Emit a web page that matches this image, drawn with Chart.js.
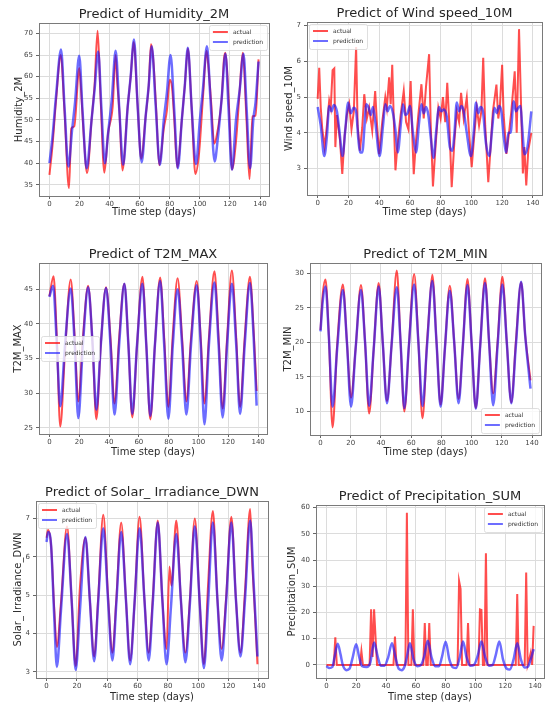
<!DOCTYPE html>
<html lang="en">
<head>
<meta charset="UTF-8">
<title>Predict of weather variables</title>
<script src="https://cdn.jsdelivr.net/npm/chart.js"></script>
<style>
  body { margin: 0; background: #fff; }
  #page { position: relative; width: 550px; height: 708px; overflow: hidden; }
</style>
</head>
<body>
<div id="page"></div>
<script>
// ---- data as [day, value] pairs ----
const xTicks = [0, 20, 40, 60, 80, 100, 120, 140];

const humidityTicks = [35, 40, 45, 50, 55, 60, 65, 70];
const humidityActual = [[0,37.3],[2,44],[4.5,55],[7.5,65],[10,52],[13,34.2],[14.5,48],[16.5,48.5],[19.8,62],[21,57],[22.5,48],[25,37.7],[28,50],[30,58],[32,70.6],[34,55],[36.5,37.8],[39,47],[42,53],[44,65],[45,59],[46.5,52],[48.5,38.3],[52,53],[54,60],[56,68],[58.5,54],[61,41],[64,51],[66,58],[67.5,67.5],[69,64],[71,52],[73,39.5],[76,48],[78,52],[80,59.3],[81.5,57.5],[83,50],[85,39],[88,50],[90,58],[92,66.5],[94.5,53],[97,37.5],[99.5,42.5],[102,55],[104.5,66],[105.5,63],[107.5,54],[109.5,44.5],[111,46],[114.5,55],[116,64],[117,65.5],[118,62],[119.5,52],[121.3,38.5],[124,45],[126.5,57],[128.5,65.5],[131,50],[133,36.3],[135,50.8],[137,51],[139,64]];
const humidityPred = [[0,40],[2,46],[4.5,56],[7.7,66.3],[10,53],[12.6,39.2],[15,47.5],[17,54],[19.8,64.8],[22,52],[24.7,38.8],[28,50],[30,57],[32.4,65.8],[34.5,53],[36.8,40],[39,47],[41.5,55],[44,66],[46.5,52],[49,39.6],[52,53],[54,60],[56.2,68.6],[58.5,54],[61.3,40.2],[64,51],[66,58],[68,67],[70.5,54],[73.4,39.6],[76,50],[78,56],[80.5,65],[83,52],[85.3,38.8],[88,50],[90,58],[92,66.7],[94.5,53],[97.4,39.8],[100,50],[102,57],[104.7,67],[107,55],[109.8,40.4],[112,46],[114.5,55],[117,65.3],[119,53],[121.3,38.5],[124,50],[126.5,57],[129,65.3],[131,53],[133.4,38.8],[135.5,50],[137,54],[139,63.5]];

const windTicks = [3, 4, 5, 6, 7];
const windActual = [[0,4.95],[1,5.82],[2,4.7],[3,4.1],[4.5,3.6],[6,4.2],[7.5,4.9],[8.5,4.7],[9.7,5.75],[10.8,5.8],[11.5,3.6],[12.5,4.5],[14.5,3.8],[16,2.85],[17.5,3.9],[19,4.5],[20.5,4.8],[22,4.1],[23.5,4.6],[25,6.4],[26,4.2],[27.5,3.5],[29,4.15],[30.3,5.08],[32,4.4],[33.5,4.7],[35.5,4.06],[37.4,5.17],[38.5,4.3],[40,3.4],[42,4.3],[44,5.0],[45,4.7],[46.5,5.55],[47.5,4.8],[48.5,5.9],[49.5,4.4],[50.6,2.95],[52,3.7],[54,4.5],[56,5.17],[57.5,4.3],[59,4.1],[60.5,5.45],[61.5,4.0],[62.5,2.84],[64,3.8],[65.5,4.5],[67.5,5.36],[69,4.4],[70.5,5.3],[72.5,6.2],[73.5,4.3],[75,2.5],[76.5,3.5],[78.5,4.7],[80,4.4],[81.5,5.0],[83,4.3],[84.3,5.4],[85.5,4.4],[87.2,2.48],[89,3.8],[90.5,4.6],[92,4.3],[93.3,5.12],[95,4.4],[97,4.98],[98.5,4.0],[100.2,3.04],[102,4.0],[103.5,4.7],[105,4.2],[106.5,4.6],[107.7,6.1],[109,4.2],[111,2.62],[112.5,3.6],[114,4.6],[116.3,5.35],[117.5,4.4],[118.5,4.7],[120,5.9],[121,4.5],[122.8,3.41],[124.5,4.0],[126,4.6],[128.2,5.72],[129.5,4.0],[131,6.9],[132.5,4.5],[133.5,2.86],[134.5,3.6],[135.7,2.53],[137,3.5],[139,4.0]];
const windPred = [[0,4.72],[2,4.2],[4.3,3.35],[6,3.9],[7.5,4.75],[9,4.6],[10.5,4.78],[12.5,4.6],[14,4.1],[16.2,3.35],[18,4.1],[19.8,4.85],[21.5,4.55],[23.5,4.7],[25,4.6],[26.5,3.8],[27.6,3.45],[29,3.45],[30.5,4.2],[31.5,4.8],[33,4.72],[34.5,4.5],[36,4.72],[37.5,4.3],[40.3,3.35],[42.5,4.2],[44,4.8],[45.5,4.6],[47,4.75],[49,4.55],[50.5,4.1],[52.1,3.45],[54,4.2],[55.5,4.8],[57,4.5],[58.5,4.55],[60,4.75],[62,4.0],[64,3.45],[66,4.3],[67.5,4.8],[69,4.55],[70.5,4.72],[72,4.5],[73.5,3.9],[75.4,3.3],[77,4.0],[79,4.72],[80.5,4.6],[82,4.65],[84,4.45],[86,3.6],[87.7,3.5],[89,4.0],[90.5,4.85],[92,4.6],[93.5,4.75],[95,4.6],[97,4.0],[99.7,3.35],[101.5,4.0],[103,4.85],[104.5,4.55],[106,4.72],[107.5,4.6],[109.5,3.7],[111.6,3.35],[113.5,4.1],[115,4.7],[116.5,4.55],[118,4.75],[119.5,4.6],[121,3.9],[122.8,3.45],[124,4.0],[125.5,4.0],[127.5,4.88],[129,4.6],[130.5,4.7],[132,4.75],[133,4.2],[134.6,3.4],[136.5,3.6],[139,4.6]];

const tmaxTicks = [25, 30, 35, 40, 45];
const tmaxActual = [[0,44],[2.8,46.9],[5,38],[7.3,25.2],[10.5,36],[14.3,46.4],[17,38],[19.4,28.8],[22.5,38],[26,45.5],[29,37],[31.5,26.2],[34.5,37],[38,45.3],[41,38],[43.7,28.5],[46.8,38],[50.3,45.8],[53,37],[55.6,26.5],[58.8,37],[62.4,46.8],[65,37],[67.7,26.2],[70.8,37],[74.3,46.7],[77,38],[79.8,28],[82.8,38.5],[86,46.6],[89,38],[91.9,28.8],[95,38],[98.8,46.2],[101.5,38],[104,28.5],[107,38],[110.7,47.6],[113.5,38],[116.2,27.8],[119.2,38],[122.4,47.7],[125.3,38],[127.9,28],[131,38],[134.5,46.8],[137,39],[139,30.3]];
const tmaxPred = [[0,43.9],[2.5,45.5],[5,37],[7.3,28.1],[10.5,37],[14.3,45.1],[17,37],[19.4,26.4],[22.5,37],[26,45.3],[29,37],[31.5,27.6],[34.5,37],[38,45.2],[41,37],[43.7,26.9],[46.8,37],[50.3,45.8],[53,37],[55.6,27],[58.8,37],[62.4,45.8],[65,37],[67.7,26.7],[70.8,37],[74.3,46.2],[77,37],[79.8,26.3],[82.8,37],[86,45],[89,37],[91.9,26.9],[95,37],[98.8,45.6],[101.5,37],[104,25.5],[107,37],[110.7,46],[113.5,37],[116.2,26.5],[119.2,37],[122.4,45.8],[125.3,37],[127.9,27],[131,37],[134.5,45.9],[137,38],[139,28.2]];

const tminTicks = [10, 15, 20, 25, 30];
const tminActual = [[0,21.8],[1.5,27],[3.3,29.1],[5.5,21],[8,7.7],[11,19.5],[14.8,28.4],[17.5,20],[20.2,12],[23.2,19],[26.8,28.3],[29.5,20],[32.2,9.7],[35.2,19],[38.5,28.6],[41.2,20],[44,11.5],[47,19.5],[50.5,30.4],[53,20],[55.5,10],[58.5,19.5],[62,29.9],[64.8,20],[67.5,9],[70.5,20],[72,24.8],[74,29.8],[76.8,20],[79.5,11],[82.3,19],[85.6,28.2],[88.5,20],[91.4,11.8],[94.2,19.5],[97.3,29.2],[100,20],[102.8,10.5],[105.7,19.5],[108.9,29.3],[111.6,20],[114.3,12.6],[117.2,20],[120.4,29.5],[123.3,20],[126.3,11.3],[129.3,20],[132.8,28.7],[135.5,21],[139,14.5]];
const tminPred = [[0,21.6],[1.5,26],[3.3,28.1],[5.5,21],[8,10.7],[11,19],[14.8,27.6],[17.5,20],[20.2,10.7],[23.2,19],[26.8,27.6],[29.5,20],[32.2,10.8],[35.2,19],[38.5,28.1],[41.2,20],[44,11.2],[47,19.5],[50.5,28],[53,20],[55.5,10.5],[58.5,19.5],[62,28.4],[64.8,20],[67.5,10.8],[70.5,19.5],[74,28.9],[76.8,20],[79.5,10.7],[82.3,19],[85.6,27.5],[88.5,20],[91.4,11.2],[94.2,19.5],[97.3,28.3],[100,20],[102.8,10.4],[105.7,19.5],[108.9,28.6],[111.6,20],[114.3,10.9],[117.2,19.5],[120.4,28.4],[123.3,20],[126.3,11.2],[129.3,19.5],[132.8,28.8],[135.5,21],[139,13.3]];

const solarTicks = [3, 4, 5, 6, 7];
const solarActual = [[0,6.5],[1,6.7],[3,6.3],[5,4.7],[6.8,3.65],[9.5,4.8],[13.5,6.8],[16.5,4.9],[19.2,3.15],[22,5.2],[25.6,6.5],[28.5,4.9],[31.4,3.4],[34,4.9],[37.4,7.1],[40.5,5],[43.4,3.5],[46,4.9],[49.2,6.9],[52.3,4.9],[55.1,3.3],[58,4.8],[61.3,7.05],[64.5,4.9],[67.3,3.5],[70,4.9],[73.3,6.95],[76.3,4.9],[79.1,3.6],[81,5.75],[82.3,5.25],[85.5,6.95],[88.5,4.9],[91.5,3.5],[94.5,4.9],[97.7,7.0],[100.8,4.9],[103.7,3.2],[106.5,5.3],[109.6,7.2],[112.6,4.9],[115.4,3.6],[118.3,4.9],[121.8,7.05],[124.8,4.9],[127.8,3.5],[130.8,5.1],[134.2,7.25],[135.5,5.9],[137,4.8],[139,3.2]];
const solarPred = [[0,6.39],[1,6.65],[3,6.3],[5,4.5],[6.8,3.13],[9.5,4.6],[13.5,6.6],[16.5,4.9],[19.2,3.05],[22,4.6],[25.6,6.52],[28.5,4.9],[31.4,3.28],[34,4.8],[37.4,6.75],[40.5,4.9],[43.4,3.3],[46,4.8],[49.2,6.65],[52.3,4.9],[55.1,3.2],[58,4.8],[61.3,6.75],[64.5,4.9],[67.3,3.3],[70,4.8],[73.3,6.9],[76.3,4.9],[79.1,3.2],[82,4.7],[85.5,6.6],[88.5,4.9],[91.5,3.25],[94.5,4.8],[97.7,6.8],[100.8,4.9],[103.7,3.1],[106.5,4.8],[109.6,6.9],[112.6,4.9],[115.4,3.3],[118.3,4.8],[121.8,6.9],[124.8,4.9],[127.8,3.4],[130.8,4.9],[134.2,6.95],[136.5,5.3],[139,3.4]];

const precipTicks = [0, 10, 20, 30, 40, 50, 60];
const precipActual = [[0,0],[5,0],[6,10.5],[7,0],[22.5,0],[23.5,5.3],[24.5,0],[29,0],[30,21.2],[31,3],[32,21.2],[33,10.4],[34,0],[45,0],[46,10.8],[47,0],[53,0],[54,58],[55,0],[57,0],[58,21.2],[59,0],[65,0],[66,16],[67,0],[68,0],[69,16],[70,0],[88,0],[89,32],[90,29],[91,0],[94,0],[95,16],[96,0],[102,0],[103,21.2],[104,21],[105,0],[106,0],[107,42.6],[108,0],[127,0],[128,27],[129,0],[133,0],[134,35.2],[135,0],[136,2],[137,4.5],[138,0],[139,14.9]];
const precipPred = [[0,-0.4],[2,-1.2],[4,-0.8],[5.5,3],[7.6,8.1],[9.5,4],[11,0],[13.5,-2],[15.5,-1.5],[17.5,2.5],[20,7.9],[22,3],[24,-0.5],[27,-0.8],[29.5,1],[32,8.5],[34.5,3],[36.5,-0.3],[39,-0.3],[41.5,3],[44,8.3],[46.5,2.5],[48.5,-1.5],[50.5,-2],[52.5,-0.5],[54,3],[56,8.3],[58.5,2],[61,-0.5],[63.5,0],[65.5,3],[68,9.2],[70.5,3],[73,-0.5],[75.5,-0.5],[77.5,3],[80,8.8],[82.5,2],[85,-1],[87,-1.2],[89.5,3],[91.6,8.9],[94,3],[96.5,-0.3],[99,0],[101.5,3.5],[104,8.9],[106.5,3],[109,-0.3],[111.5,0],[113.5,3.5],[116,8.9],[118.5,2],[121,-1.5],[123,-1.8],[125.5,2],[128,8.3],[130.5,2],[133,-1],[135,-0.8],[137,2],[139,6]];

// ---- panel layout (pixel positions of plot box, title, axis titles) ----
const panels = [
  { name: 'Humidity_2M', actual: humidityActual, pred: humidityPred, yTicks: humidityTicks, yMin: 32.4, yMax: 72.4, legend: 'ur',
    box: [39, 23, 269, 196], titleY: 15, yTitleX: 19, xTitleY: 212 },
  { name: 'Wind speed_10M', actual: windActual, pred: windPred, yTicks: windTicks, yMin: 2.26, yMax: 7.1, legend: 'ul', spiky: true,
    box: [307, 22, 542, 195], titleY: 14, yTitleX: 289, xTitleY: 212 },
  { name: 'T2M_MAX', actual: tmaxActual, pred: tmaxPred, yTicks: tmaxTicks, yMin: 24.1, yMax: 48.8, legend: 'cl',
    box: [39, 263, 267, 434], titleY: 255, yTitleX: 18, xTitleY: 452 },
  { name: 'T2M_MIN', actual: tminActual, pred: tminPred, yTicks: tminTicks, yMin: 6.6, yMax: 31.5, legend: 'lr',
    box: [310, 263, 541, 435], titleY: 255, yTitleX: 288, xTitleY: 452 },
  { name: 'Solar_ Irradiance_DWN', actual: solarActual, pred: solarPred, yTicks: solarTicks, yMin: 2.84, yMax: 7.46, legend: 'ul',
    box: [36, 501, 268, 678], titleY: 493, yTitleX: 18, xTitleY: 697 },
  { name: 'Precipitation_SUM', actual: precipActual, pred: precipPred, yTicks: precipTicks, yMin: -5, yMax: 61, legend: 'ur', spiky: true,
    box: [316, 505, 544, 678], titleY: 497, yTitleX: 292, xTitleY: 697 }
];

Chart.defaults.font.family = '"DejaVu Sans", sans-serif';
Chart.defaults.animation = false;

// centre the title over the plot, not over the whole canvas
const centerTitle = {
  id: 'centerTitle',
  afterLayout(chart) {
    const t = chart.titleBlock;
    if (t) {
      t.left = chart.chartArea.left;
      t.right = chart.chartArea.right;
      t.width = t.right - t.left;
    }
  }
};

// full box around the plot, like matplotlib spines
const framePlugin = {
  id: 'frame',
  afterDatasetsDraw(chart) {
    const a = chart.chartArea, ctx = chart.ctx;
    ctx.save();
    ctx.strokeStyle = '#7a7a7a';
    ctx.lineWidth = 1;
    ctx.strokeRect(Math.round(a.left) + 0.5, Math.round(a.top) + 0.5, Math.round(a.right - a.left), Math.round(a.bottom - a.top));
    ctx.restore();
  }
};

// small legend box inside the plot
const cornerLegend = {
  id: 'cornerLegend',
  afterDraw(chart, args, opts) {
    const a = chart.chartArea, ctx = chart.ctx;
    const items = chart.data.datasets.map(d => ({ text: d.label, color: d.borderColor }));
    ctx.save();
    ctx.font = '6px "DejaVu Sans"';
    const tw = Math.max(...items.map(i => ctx.measureText(i.text).width));
    const w = 4 + 15 + 5 + tw + 4, h = 4 + items.length * 10 + 1;
    let x, y;
    if (opts.pos === 'ur') { x = a.right - w - 2; y = a.top + 2; }
    else if (opts.pos === 'ul') { x = a.left + 2; y = a.top + 2; }
    else if (opts.pos === 'cl') { x = a.left + 2; y = (a.top + a.bottom) / 2 - h / 2; }
    else { x = a.right - w - 2; y = a.bottom - h - 2; }
    ctx.fillStyle = 'rgba(255,255,255,0.8)';
    ctx.strokeStyle = 'rgba(215,215,215,0.8)';
    ctx.lineWidth = 1;
    ctx.beginPath();
    ctx.roundRect(Math.round(x) + 0.5, Math.round(y) + 0.5, Math.round(w), Math.round(h), 2);
    ctx.fill();
    ctx.stroke();
    items.forEach((it, i) => {
      const cy = Math.round(y + 2 + 5 + i * 10);
      ctx.strokeStyle = it.color;
      ctx.lineWidth = 2;
      ctx.beginPath();
      ctx.moveTo(x + 4, cy);
      ctx.lineTo(x + 19, cy);
      ctx.stroke();
      ctx.fillStyle = '#333';
      ctx.textBaseline = 'middle';
      ctx.fillText(it.text, x + 24, cy);
    });
    ctx.restore();
  }
};

const toXY = pairs => pairs.map(p => ({ x: p[0], y: p[1] }));
const page = document.getElementById('page');

panels.forEach(p => {
  const [L, T, R, B] = p.box;
  const left = Math.round(p.yTitleX - 6);
  const top = Math.round(p.titleY - 8);
  const bottom = Math.round(p.xTitleY + 6);
  const right = R + 6;
  const cv = document.createElement('canvas');
  cv.width = right - left;
  cv.height = bottom - top;
  cv.style.cssText = `position:absolute;left:${left}px;top:${top}px;`;
  page.appendChild(cv);

  const yw = L - left, th = T - top, xh = bottom - B;

  new Chart(cv, {
    type: 'line',
    data: {
      datasets: [
        { label: 'actual', data: toXY(p.actual), borderColor: 'rgba(255,10,10,0.72)', borderWidth: 2,
          pointRadius: 0, tension: 0, cubicInterpolationMode: p.spiky ? 'default' : 'monotone', order: 2 },
        { label: 'prediction', data: toXY(p.pred), borderColor: 'rgba(20,20,255,0.62)', borderWidth: 2.5,
          pointRadius: 0, cubicInterpolationMode: 'monotone', order: 1 }
      ]
    },
    options: {
      responsive: false,
      devicePixelRatio: 1,
      layout: { padding: { left: 0, top: 0, bottom: 0, right: right - R } },
      plugins: {
        legend: { display: false },
        tooltip: { enabled: false },
        title: { display: true, text: 'Predict of ' + p.name, color: '#262626',
          font: { size: 13, weight: 'normal', lineHeight: '16px' }, padding: { top: 0, bottom: th - 16 } },
        cornerLegend: { pos: p.legend }
      },
      scales: {
        x: {
          type: 'linear', min: -6.95, max: 145.95,
          afterBuildTicks: s => { s.ticks = xTicks.map(v => ({ value: v })); },
          afterFit: s => { s.height = xh; },
          grid: { color: '#dcdcdc', tickColor: '#666', tickLength: 3 },
          border: { display: false },
          ticks: { font: { size: 7 }, color: '#444', padding: 1, maxRotation: 0, autoSkip: false },
          title: { display: true, text: 'Time step (days)', color: '#2a2a2a', font: { size: 10 }, padding: 0 }
        },
        y: {
          min: p.yMin, max: p.yMax,
          afterBuildTicks: s => { s.ticks = p.yTicks.map(v => ({ value: v })); },
          afterFit: s => { s.width = yw; },
          grid: { color: '#dcdcdc', tickColor: '#666', tickLength: 3 },
          border: { display: false },
          ticks: { font: { size: 7 }, color: '#444', padding: 3, autoSkip: false },
          title: { display: true, text: p.name, color: '#2a2a2a', font: { size: 10 }, padding: 0 }
        }
      }
    },
    plugins: [centerTitle, framePlugin, cornerLegend]
  });
});
</script>
</body>
</html>
